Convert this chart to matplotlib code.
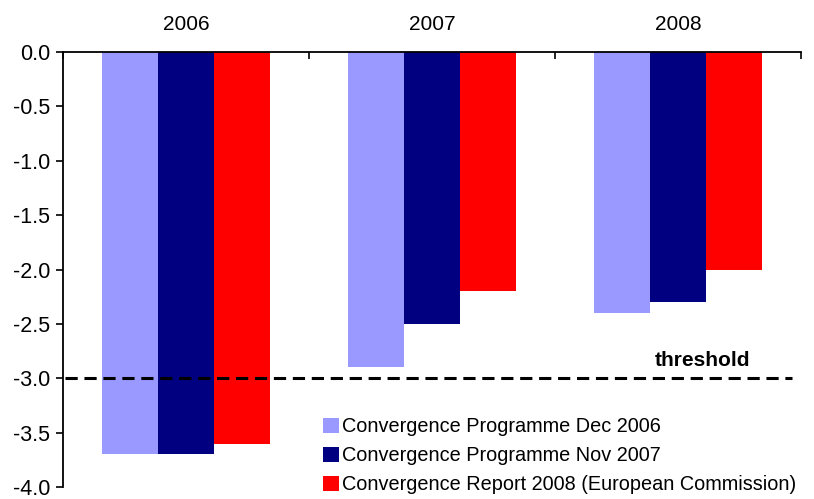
import matplotlib.pyplot as plt
import numpy as np

# data
years = ["2006", "2007", "2008"]
series_names = ["Convergence Programme Dec 2006",
                "Convergence Programme Nov 2007",
                "Convergence Report 2008 (European Commission)"]
dec_2006 = [-3.7, -2.9, -2.4]
nov_2007 = [-3.7, -2.5, -2.3]
report_2008 = [-3.6, -2.2, -2.0]
threshold = -3.0
yticks = [0.0, -0.5, -1.0, -1.5, -2.0, -2.5, -3.0, -3.5, -4.0]

colors = ["#9999ff", "#000080", "#ff0000"]

plt.rcParams['font.family'] = ['Liberation Sans', 'DejaVu Sans']

fig = plt.figure(figsize=(8.14, 4.99), dpi=100)
ax = fig.add_axes([63 / 814, 1 - 487 / 499, (801 - 63) / 814, (487 - 52) / 499])

x = np.arange(len(years))
w = 0.227
for i, (vals, name) in enumerate(zip([dec_2006, nov_2007, report_2008], series_names)):
    ax.bar(x + (i - 1) * w, vals, width=w, color=colors[i], label=name)

ax.axhline(threshold, xmin=0.003, xmax=0.988, color="black", lw=2.2,
           linestyle=(0, (4, 2.2)))
ax.text(2.1, threshold + 0.08, "threshold", fontsize=15, fontweight="bold",
        ha="center", va="bottom")

ax.set_xlim(-0.5, 2.5)
ax.set_ylim(-4.0, 0.0)
ax.set_yticks(yticks)
ax.set_yticklabels(["%.1f" % t for t in yticks], fontsize=15.5)
ax.tick_params(axis="y", direction="out", length=5, width=1.2, pad=4)

ax.xaxis.tick_top()
ax.set_xticks(x)
ax.set_xticklabels(years, fontsize=15)
ax.set_xticks([-0.5, 0.5, 1.5, 2.5], minor=True)
ax.tick_params(axis="x", which="major", length=0, pad=13)
ax.tick_params(axis="x", which="minor", direction="in", length=5, width=1.2)

for s in ["right", "bottom"]:
    ax.spines[s].set_visible(False)
ax.spines["left"].set_linewidth(1.3)
ax.spines["top"].set_linewidth(1.3)

ax.legend(loc="upper left", bbox_to_anchor=(0.352, 0.16), frameon=False,
          fontsize=14.3, handlelength=0.8, handleheight=0.8, handletextpad=0.15,
          labelspacing=0.5, borderaxespad=0, borderpad=0)

fig.savefig("out.png", dpi=100)
